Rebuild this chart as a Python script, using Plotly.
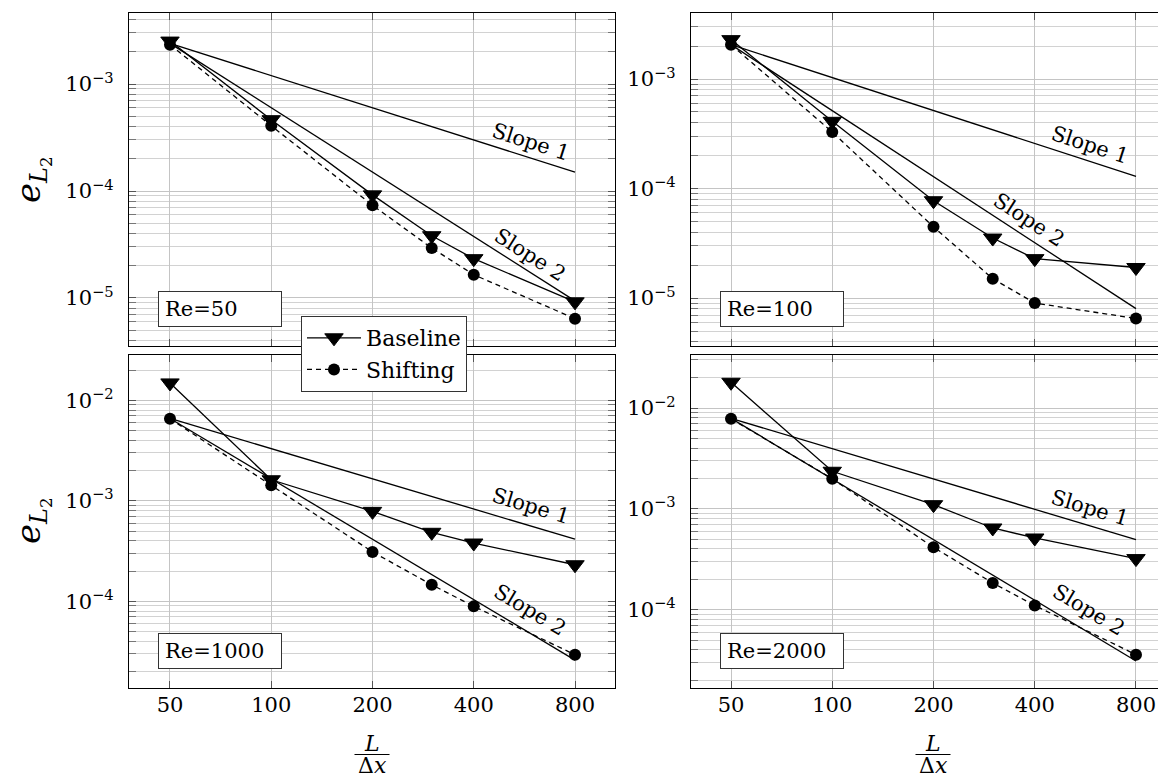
import numpy as np
import plotly.graph_objects as go

# ---------------- data ----------------
x_vals = [50, 100, 200, 300, 400, 800]
x_ticks = [50, 100, 200, 400, 800]
x_ticktext = ["50", "100", "200", "400", "800"]
y_major = [1e-5, 1e-4, 1e-3, 1e-2]
y_ticktext = ["10<sup>−5</sup>", "10<sup>−4</sup>", "10<sup>−3</sup>", "10<sup>−2</sup>"]

panel_names = ["Re=50", "Re=100", "Re=1000", "Re=2000"]

baseline_re50 = [2.52e-3, 4.64e-4, 9.2e-5, 3.82e-5, 2.33e-5, 9.2e-6]
shifting_re50 = [2.33e-3, 4.07e-4, 7.35e-5, 2.93e-5, 1.65e-5, 6.4e-6]
baseline_re100 = [2.29e-3, 4.11e-4, 7.74e-5, 3.53e-5, 2.29e-5, 1.9e-5]
shifting_re100 = [2.06e-3, 3.28e-4, 4.47e-5, 1.50e-5, 9.0e-6, 6.5e-6]
baseline_re1000 = [1.49e-2, 1.62e-3, 7.85e-4, 4.86e-4, 3.80e-4, 2.31e-4]
shifting_re1000 = [6.56e-3, 1.43e-3, 3.10e-4, 1.46e-4, 8.9e-5, 2.94e-5]
baseline_re2000 = [1.80e-2, 2.36e-3, 1.10e-3, 6.46e-4, 5.14e-4, 3.21e-4]
shifting_re2000 = [7.83e-3, 1.99e-3, 4.15e-4, 1.84e-4, 1.10e-4, 3.58e-5]

slope_x = [50, 800]
slope1_re50 = [2.4e-3, 1.5e-4]
slope2_re50 = [2.4e-3, 9.4e-6]
slope1_re100 = [2.06e-3, 1.29e-4]
slope2_re100 = [2.06e-3, 8.0e-6]
slope1_re1000 = [6.6e-3, 4.15e-4]
slope2_re1000 = [6.6e-3, 2.6e-5]
slope1_re2000 = [7.9e-3, 4.95e-4]
slope2_re2000 = [7.9e-3, 3.1e-5]

baselines = [baseline_re50, baseline_re100, baseline_re1000, baseline_re2000]
shiftings = [shifting_re50, shifting_re100, shifting_re1000, shifting_re2000]
slope1s = [slope1_re50, slope1_re100, slope1_re1000, slope1_re2000]
slope2s = [slope2_re50, slope2_re100, slope2_re1000, slope2_re2000]

# label anchor x (data) for slope texts
slope1_label_x = [592, 584, 592, 584]
slope2_label_x = [588, 385, 588, 580]

# ---------------- layout geometry ----------------
W, H = 1166, 778
FONT = "DejaVu Serif"
FS = 21

x_domains = [(121 / W, 607 / W), (683 / W, 1.0), (121 / W, 607 / W), (683 / W, 1.0)]
y_domains = [((H - 338) / H, (H - 5) / H), ((H - 338) / H, (H - 5) / H),
             ((H - 680) / H, (H - 347) / H), ((H - 680) / H, (H - 347) / H)]
x_ranges = [[1.5771, 3.0220], [1.5800, 3.0161], [1.5771, 3.0220], [1.5800, 3.0161]]
y_ranges = [[-5.449, -2.336], [-5.438, -2.397], [-4.863, -1.549], [-4.777, -1.474]]
slope1_shift = [16, 16, 20, 18]
slope2_shift = [17, 19, 23, 23]

minor_vals = [m * 10.0 ** k for k in range(-6, -1) for m in range(2, 10)]

fig = go.Figure()

for i in range(4):
    xa = "x" if i == 0 else f"x{i+1}"
    ya = "y" if i == 0 else f"y{i+1}"
    # slope reference lines
    for s in (slope1s[i], slope2s[i]):
        fig.add_trace(go.Scatter(x=slope_x, y=s, mode="lines", xaxis=xa, yaxis=ya,
                                 line=dict(color="black", width=1.3), showlegend=False,
                                 hoverinfo="skip"))
    fig.add_trace(go.Scatter(x=x_vals, y=baselines[i], mode="lines+markers", name="Baseline",
                             xaxis=xa, yaxis=ya, showlegend=(i == 0), legendgroup="b",
                             line=dict(color="black", width=1.3),
                             marker=dict(symbol="triangle-down", size=16, color="black",
                                         line=dict(color="black", width=1))))
    fig.add_trace(go.Scatter(x=x_vals, y=shiftings[i], mode="lines+markers", name="Shifting",
                             xaxis=xa, yaxis=ya, showlegend=(i == 0), legendgroup="s",
                             line=dict(color="black", width=1.3, dash="5px,4px"),
                             marker=dict(symbol="circle", size=12, color="black")))

    axis_common = dict(type="log", showgrid=True, gridcolor="#c4c4c4", gridwidth=1,
                       showline=True, linecolor="black", linewidth=1.2, mirror="ticks",
                       ticks="inside", ticklen=7, tickcolor="#555555", zeroline=False,
                       tickfont=dict(family=FONT, size=FS, color="black"))
    xaxis = dict(axis_common, domain=list(x_domains[i]), range=x_ranges[i],
                 tickmode="array", tickvals=x_ticks, ticktext=x_ticktext,
                 showticklabels=(i >= 2), anchor=ya, ticklabelstandoff=-2)
    yaxis = dict(axis_common, domain=list(y_domains[i]), range=y_ranges[i],
                 tickmode="array", tickvals=y_major, ticktext=y_ticktext,
                 anchor=xa, ticklabelstandoff=10,
                 minor=dict(tickvals=minor_vals, ticks="inside", ticklen=7,
                            tickcolor="#777777", showgrid=True, gridcolor="#d2d2d2",
                            gridwidth=1))
    key = "" if i == 0 else str(i + 1)
    fig.update_layout(**{f"xaxis{key}": xaxis, f"yaxis{key}": yaxis})

    # Re box
    fig.add_annotation(xref=f"{xa} domain", yref=f"{ya} domain", x=29 / 486, y=19 / 333,
                       xanchor="left", yanchor="bottom", text=panel_names[i], showarrow=False,
                       align="left", width=110, height=22, borderpad=6, borderwidth=1,
                       bordercolor="#333333", bgcolor="white",
                       font=dict(family=FONT, size=FS, color="black"))

    # slope labels
    dx = np.log10(slope_x[1]) - np.log10(slope_x[0])
    for lab, s, lx, sh in (("Slope 1", slope1s[i], slope1_label_x[i], slope1_shift[i]),
                           ("Slope 2", slope2s[i], slope2_label_x[i], slope2_shift[i])):
        t = (np.log10(lx) - np.log10(slope_x[0])) / dx
        ly = np.log10(s[0]) + t * (np.log10(s[1]) - np.log10(s[0]))
        xpx = (x_domains[i][1] - x_domains[i][0]) * W / (x_ranges[i][1] - x_ranges[i][0])
        ypx = (y_domains[i][1] - y_domains[i][0]) * H / (y_ranges[i][1] - y_ranges[i][0])
        slope_px = (np.log10(s[0]) - np.log10(s[1])) / dx * ypx / xpx
        ang = float(np.degrees(np.arctan(slope_px)))
        fig.add_annotation(xref=xa, yref=ya, x=float(np.log10(lx)), y=float(ly), text=lab,
                           showarrow=False, textangle=ang, yshift=sh, xanchor="center",
                           yanchor="middle", font=dict(family=FONT, size=21, color="black"))

# y titles
for yc in (172, 513):
    fig.add_annotation(xref="paper", yref="paper", x=24 / W, y=(H - yc) / H,
                       text="<i>e</i><sub><i>L</i><sub>2</sub></sub>", textangle=-90,
                       showarrow=False, xanchor="center", yanchor="middle",
                       font=dict(family=FONT, size=34, color="black"))

# x titles (fraction L / Δx)
for xc in (364, 925):
    fig.add_annotation(xref="paper", yref="paper", x=xc / W, y=(H - 735) / H,
                       text="<i>L</i>", showarrow=False, xanchor="center", yanchor="middle",
                       height=22, font=dict(family=FONT, size=22, color="black"))
    fig.add_annotation(xref="paper", yref="paper", x=xc / W, y=(H - 757) / H,
                       text="Δ<i>x</i>", showarrow=False, xanchor="center", yanchor="middle",
                       height=22, font=dict(family=FONT, size=22, color="black"))
    fig.add_shape(type="line", xref="paper", yref="paper", x0=(xc - 17.5) / W,
                  x1=(xc + 17.5) / W, y0=(H - 746.5) / H, y1=(H - 746.5) / H,
                  line=dict(color="black", width=1.2))

fig.update_layout(
    width=W, height=H, margin=dict(l=0, r=0, t=0, b=0),
    paper_bgcolor="white", plot_bgcolor="white",
    font=dict(family=FONT, size=FS, color="black"),
    legend=dict(x=293 / W, y=(H - 308) / H, xanchor="left", yanchor="top",
                bgcolor="white", bordercolor="#333333", borderwidth=1,
                font=dict(family=FONT, size=22, color="black"),
                itemwidth=54, tracegroupgap=0),
)

fig.write_html("out.html")
